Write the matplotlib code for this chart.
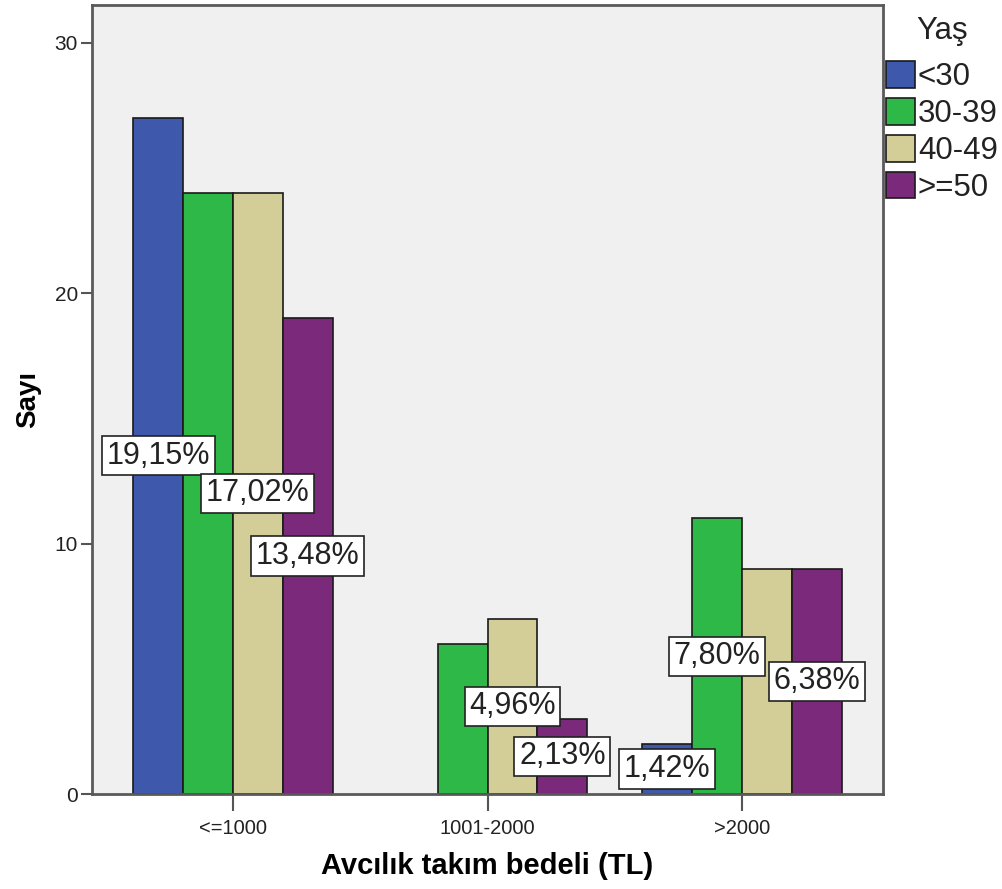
import matplotlib.pyplot as plt
import numpy as np

plt.rcParams['font.family'] = ['Liberation Sans', 'DejaVu Sans']

#***********  DATA  ***********#
categories = ['<=1000', '1001-2000', '>2000']
age_groups = ['<30', '30-39', '40-49', '>=50']
under30 = [27, 0, 2]
age30_39 = [24, 6, 11]
age40_49 = [24, 7, 9]
over50 = [19, 3, 9]
# percentage labels as shown (None = not shown in the chart)
pct_under30 = ['19,15%', None, '1,42%']
pct_30_39 = [None, None, '7,80%']
pct_40_49 = ['17,02%', '4,96%', None]
pct_over50 = ['13,48%', '2,13%', '6,38%']

colors = ['#3E58AC', '#2EB848', '#D3CE97', '#7B2A7B']
series = [under30, age30_39, age40_49, over50]
labels = [pct_under30, pct_30_39, pct_40_49, pct_over50]

#***********  FIGURE  ***********#
fig = plt.figure(figsize=(10.03, 8.89), dpi=100)
ax = fig.add_axes([92/1003, 1-794/889, (883-92)/1003, (794-5)/889])
ax.set_facecolor('#F0F0F0')

x = np.arange(len(categories))
w = 0.196
for i, (vals, col, name) in enumerate(zip(series, colors, age_groups)):
    pos = x + (i - 1.5) * w
    bars = ax.bar(pos, vals, width=w, color=col, edgecolor='#1a1a1a',
                  linewidth=1.2, label=name, zorder=2)
    for b, v in zip(bars, vals):
        if v == 0:
            b.set_visible(False)
    for p, v, t in zip(pos, vals, labels[i]):
        if t is None:
            continue
        ax.text(p, v / 2, t, ha='center', va='center', fontsize=22,
                color='#222222', zorder=4,
                bbox=dict(boxstyle='square,pad=0.15', fc='white',
                          ec='#222222', lw=1.2))

ax.set_xlim(-0.554, 2.554)
ax.set_ylim(0, 31.5)
ax.set_yticks([0, 10, 20, 30])
ax.set_xticks(x)
ax.set_xticklabels(categories)
ax.tick_params(axis='y', length=8, width=1.5, color='#555555', labelsize=15,
               labelcolor='#222222', pad=2)
ax.tick_params(axis='x', length=12, width=1.5, color='#555555', labelsize=14.5,
               labelcolor='#222222', pad=6)

for s in ax.spines.values():
    s.set_color('#5a5a5a')
    s.set_linewidth(2)

ax.set_xlabel('Avcılık takım bedeli (TL)', fontsize=21, fontweight='bold',
              labelpad=10)
ax.set_ylabel('Sayı', fontsize=20, fontweight='bold', labelpad=10)

# legend: title drawn separately to get the wider gap
fig.text(942/1003, 1-31/889, 'Yaş', ha='center', va='center',
         fontsize=22.5, color='#222222')
leg = ax.legend(loc='upper left',
                bbox_to_anchor=(886/1003, 1-61/889),
                bbox_transform=fig.transFigure, frameon=False,
                fontsize=22.5, handlelength=0.92,
                handleheight=0.95, handletextpad=0.1, labelspacing=0.18,
                borderpad=0, borderaxespad=0)
for h in leg.legend_handles:
    h.set_edgecolor('#1a1a1a')
for t in leg.get_texts():
    t.set_color('#222222')

fig.savefig('out.png', dpi=100)
